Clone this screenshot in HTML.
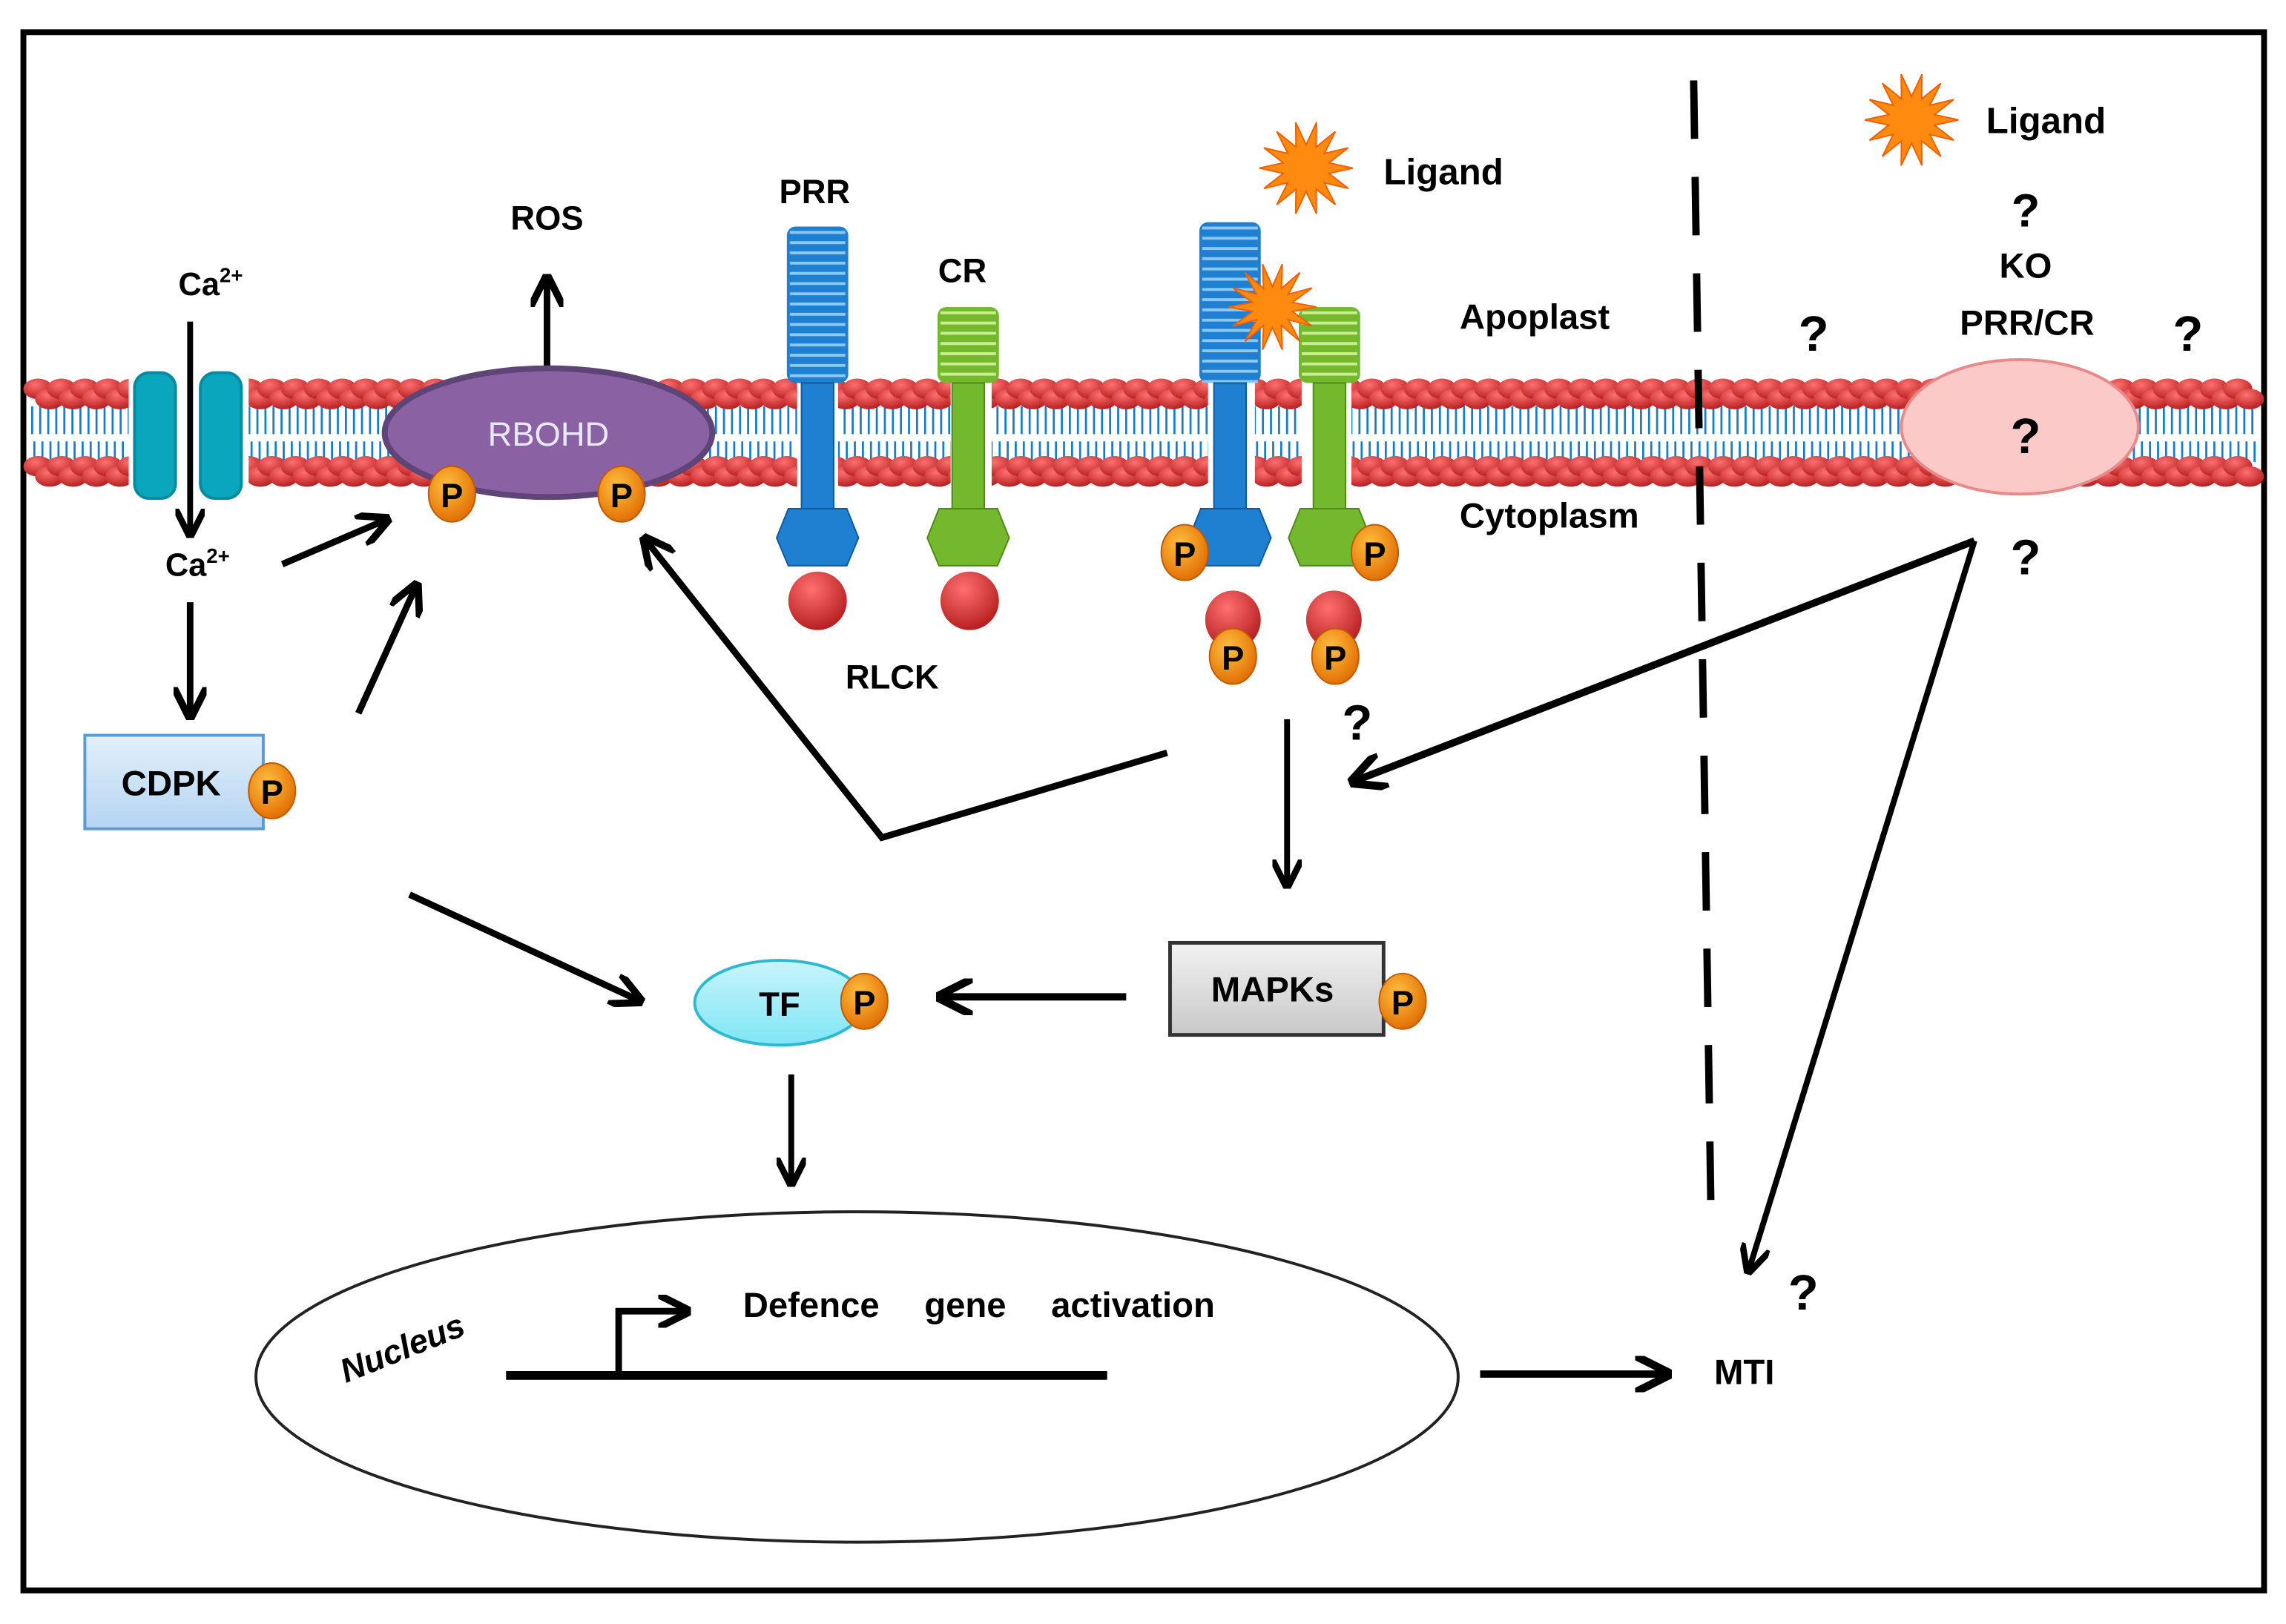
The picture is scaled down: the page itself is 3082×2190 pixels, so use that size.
<!DOCTYPE html>
<html><head><meta charset="utf-8"><style>
html,body{margin:0;padding:0;background:#fff;}
svg{display:block;}
text{font-family:"Liberation Sans",sans-serif;font-weight:bold;fill:#000;}
</style></head><body>
<svg id="s" width="3082" height="2190" viewBox="0 0 1563 1111" preserveAspectRatio="none" xmlns="http://www.w3.org/2000/svg">
<defs>
<marker id="ah" viewBox="0 0 10 10" refX="8" refY="5" markerWidth="5" markerHeight="5" orient="auto-start-reverse">
<path d="M0,0 L10,5 L0,10" fill="none" stroke="#000" stroke-width="2.2"/></marker>
<radialGradient id="pg" cx="0.4" cy="0.35" r="0.7"><stop offset="0" stop-color="#ffc040"/><stop offset="1" stop-color="#e06a00"/></radialGradient>
<radialGradient id="rg" cx="0.4" cy="0.3" r="0.7"><stop offset="0" stop-color="#ff7070"/><stop offset="1" stop-color="#b82020"/></radialGradient>
<linearGradient id="cd" x1="0" y1="0" x2="0" y2="1"><stop offset="0" stop-color="#e3f0fb"/><stop offset="1" stop-color="#b4d4f2"/></linearGradient>
<linearGradient id="mp" x1="0" y1="0" x2="0" y2="1"><stop offset="0" stop-color="#f2f2f2"/><stop offset="1" stop-color="#c8c8c8"/></linearGradient>
<linearGradient id="tf" x1="0" y1="0" x2="0" y2="1"><stop offset="0" stop-color="#c8f4fb"/><stop offset="1" stop-color="#7fe6f6"/></linearGradient>
</defs>
<rect x="0" y="0" width="1563" height="1111" fill="#fff"/>
<rect x="16" y="22" width="1532" height="1066" fill="none" stroke="#000" stroke-width="4"/>
<g id="mem"></g>
<g id="top"></g>
<rect x="92" y="255" width="28" height="86" rx="10" fill="#0aa6be" stroke="#078aa0" stroke-width="2"/>
<rect x="137" y="255" width="28" height="86" rx="10" fill="#0aa6be" stroke="#078aa0" stroke-width="2"/>
<line x1="130" y1="220" x2="130" y2="364" stroke="#000" stroke-width="4" marker-end="url(#ah)"/>
<text x="122" y="202" font-size="22">Ca<tspan font-size="14" dy="-9">2+</tspan></text>
<text x="113" y="394" font-size="22">Ca<tspan font-size="14" dy="-9">2+</tspan></text>
<line x1="374" y1="254" x2="374" y2="192" stroke="#000" stroke-width="4.5" marker-end="url(#ah)"/>
<ellipse cx="375" cy="296" rx="112" ry="44" fill="#8a62a3" stroke="#5f4477" stroke-width="4"/>
<text x="375" y="305" font-size="23" text-anchor="middle" style="font-weight:normal;fill:#e8e8ff">RBOHD</text>
<text x="374" y="157" font-size="23" text-anchor="middle">ROS</text>
<g id="rec"></g>
<text x="557" y="139" font-size="23" text-anchor="middle">PRR</text>
<text x="658" y="193" font-size="23" text-anchor="middle">CR</text>
<text x="610" y="471" font-size="23" text-anchor="middle">RLCK</text>
<text x="946" y="126" font-size="25">Ligand</text>
<text x="998" y="225" font-size="24">Apoplast</text>
<text x="998" y="361" font-size="24">Cytoplasm</text>
<line x1="1158" y1="55" x2="1170" y2="840" stroke="#000" stroke-width="5" stroke-dasharray="40 26"/>
<text x="1358" y="91" font-size="25">Ligand</text>
<text x="1385" y="155" font-size="32" text-anchor="middle">?</text>
<text x="1385" y="190" font-size="24" text-anchor="middle">KO</text>
<text x="1386" y="229" font-size="24" text-anchor="middle">PRR/CR</text>
<text x="1240" y="240" font-size="34" text-anchor="middle">?</text>
<text x="1496" y="240" font-size="34" text-anchor="middle">?</text>
<ellipse cx="1381" cy="292" rx="81" ry="46" fill="#fcc9c9" stroke="#e88a8a" stroke-width="2"/>
<text x="1385" y="310" font-size="34" text-anchor="middle">?</text>
<text x="1385" y="393" font-size="34" text-anchor="middle">?</text>
<line x1="1350" y1="370" x2="927" y2="534" stroke="#000" stroke-width="5" marker-end="url(#ah)"/>
<line x1="1350" y1="370" x2="1196" y2="868" stroke="#000" stroke-width="4" marker-end="url(#ah)"/>
<text x="1233" y="896" font-size="34" text-anchor="middle">?</text>
<text x="928" y="506" font-size="34" text-anchor="middle">?</text>
<text x="1172" y="947" font-size="24">MTI</text>
<line x1="1012" y1="940" x2="1138" y2="940" stroke="#000" stroke-width="5" marker-end="url(#ah)"/>
<polyline points="798,515 603,573 442,370" fill="none" stroke="#000" stroke-width="4.5" marker-end="url(#ah)"/>
<line x1="193" y1="386" x2="263" y2="356" stroke="#000" stroke-width="4.5" marker-end="url(#ah)"/>
<line x1="245" y1="488" x2="284" y2="402" stroke="#000" stroke-width="4.5" marker-end="url(#ah)"/>
<line x1="130" y1="412" x2="130" y2="488" stroke="#000" stroke-width="4.5" marker-end="url(#ah)"/>
<rect x="58" y="503" width="122" height="64" fill="url(#cd)" stroke="#5b9bd5" stroke-width="2"/>
<text x="117" y="544" font-size="24" text-anchor="middle">CDPK</text>
<line x1="280" y1="612" x2="436" y2="684" stroke="#000" stroke-width="4.5" marker-end="url(#ah)"/>
<ellipse cx="533" cy="686" rx="58" ry="29" fill="url(#tf)" stroke="#30b8d0" stroke-width="2"/>
<text x="533" y="695" font-size="23" text-anchor="middle">TF</text>
<line x1="770" y1="682" x2="645" y2="682" stroke="#000" stroke-width="5" marker-end="url(#ah)"/>
<rect x="800" y="645" width="146" height="63" fill="url(#mp)" stroke="#333" stroke-width="2.5"/>
<text x="870" y="685" font-size="24" text-anchor="middle">MAPKs</text>
<line x1="880" y1="492" x2="880" y2="604" stroke="#000" stroke-width="4" marker-end="url(#ah)"/>
<line x1="541" y1="735" x2="541" y2="808" stroke="#000" stroke-width="4" marker-end="url(#ah)"/>
<ellipse cx="586" cy="942" rx="411" ry="113" fill="none" stroke="#222" stroke-width="2"/>
<text x="275" y="930" font-size="23" transform="rotate(-22 275 922)" text-anchor="middle" style="font-style:italic">Nucleus</text>
<line x1="346" y1="941" x2="757" y2="941" stroke="#000" stroke-width="6"/>
<polyline points="423,941 423,897 468,897" fill="none" stroke="#000" stroke-width="4.5" marker-end="url(#ah)"/>
<text x="508" y="901" font-size="24" word-spacing="24">Defence gene activation</text>
<g id="ps"></g>
</svg>
<script>
var NS="http://www.w3.org/2000/svg";
function el(p,t,a){var e=document.createElementNS(NS,t);for(var k in a)e.setAttribute(k,a[k]);p.appendChild(e);return e;}
var mem=document.getElementById('mem');
for(var x=22;x<1545;x+=5.5){
 el(mem,'line',{x1:x,y1:278,x2:x,y2:297,stroke:'#1a7cc8','stroke-width':1.4});
 el(mem,'line',{x1:x+1.5,y1:302,x2:x+1.5,y2:316,stroke:'#1a7cc8','stroke-width':1.4});
}
for(var x=26;x<1545;x+=16){
 el(mem,'ellipse',{cx:x,cy:266,rx:10,ry:7,fill:'url(#rg)'});
 el(mem,'ellipse',{cx:x+8,cy:273,rx:10,ry:7,fill:'url(#rg)'});
 el(mem,'ellipse',{cx:x,cy:319,rx:10,ry:7,fill:'url(#rg)'});
 el(mem,'ellipse',{cx:x+8,cy:326,rx:10,ry:7,fill:'url(#rg)'});
}
[[88,170],[545,573],[650,678],[826,858],[890,924]].forEach(function(g){
 el(mem,'rect',{x:g[0],y:255,width:g[1]-g[0],height:82,fill:'#fff'});
});
var rec=document.getElementById('rec');
function receptor(cx,top,col,dark,light){
 var w=42;
 el(rec,'rect',{x:cx-w/2,y:top,width:w,height:262-top,rx:6,fill:col});
 for(var y=top+4;y<262;y+=7) el(rec,'line',{x1:cx-w/2+2,y1:y,x2:cx+w/2-2,y2:y,stroke:light,'stroke-width':2});
 el(rec,'rect',{x:cx-11,y:262,width:22,height:86,fill:col,stroke:dark,'stroke-width':1});
 el(rec,'polygon',{points:(cx-20)+',348 '+(cx+20)+',348 '+(cx+28)+',368 '+(cx+20)+',387 '+(cx-20)+',387 '+(cx-28)+',368',fill:col,stroke:dark,'stroke-width':1});
}
receptor(559,155,'#1f7fd0','#0d5a9e','#8cc8f4');
receptor(662,210,'#74b82e','#4d8a18','#c8ee90');
receptor(841,152,'#1f7fd0','#0d5a9e','#8cc8f4');
receptor(909,210,'#74b82e','#4d8a18','#c8ee90');
el(rec,'circle',{cx:559,cy:411,r:20,fill:'url(#rg)'});
el(rec,'circle',{cx:663,cy:411,r:20,fill:'url(#rg)'});
el(rec,'ellipse',{cx:843,cy:424,rx:19,ry:20,fill:'url(#rg)'});
el(rec,'ellipse',{cx:912,cy:424,rx:19,ry:20,fill:'url(#rg)'});
function star(cx,cy,r1,r2,n){var p=[];for(var i=0;i<2*n;i++){var a=i*Math.PI/n;var r=i%2?r2:r1;p.push((cx+r*Math.cos(a)).toFixed(1)+','+(cy+r*Math.sin(a)).toFixed(1));}el(document.getElementById('s'),'polygon',{points:p.join(' '),fill:'#ff8a10',stroke:'#f06000','stroke-width':1});}
star(893,115,32,16,14);star(1307,82,32,16,14);star(870,210,30,14,14);
var ps=document.getElementById('ps');
function P(x,y){el(ps,'ellipse',{cx:x,cy:y,rx:16,ry:19,fill:'url(#pg)',stroke:'#c05a00','stroke-width':1});var t=el(ps,'text',{x:x,y:y+9,'font-size':23,'text-anchor':'middle'});t.textContent='P';}
[[309,338],[425,338],[810,378],[940,378],[843,449],[913,449],[186,541],[591,685],[959,685]].forEach(function(p){P(p[0],p[1]);});
</script>
</body></html>
